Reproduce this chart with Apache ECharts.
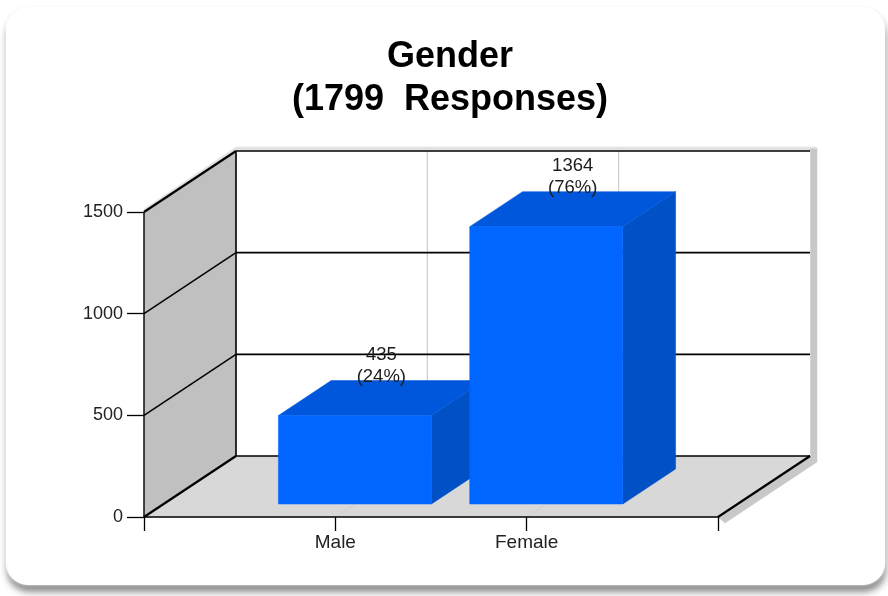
<!DOCTYPE html>
<html>
<head>
<meta charset="utf-8">
<title>Gender</title>
<script src="https://cdn.jsdelivr.net/npm/echarts@6/dist/echarts.min.js"></script>
<style>
  html, body { margin: 0; padding: 0; background: #fff; overflow: hidden; }
  #wrap { position: relative; width: 888px; height: 596px; background: #fff; overflow: hidden; }
  #card {
    position: absolute; left: 6px; top: 7px; width: 879px; height: 578px;
    background: #fff; border-radius: 22px;
    box-shadow: 0 0 3px #f2f2f2, 1px 7px 7px #8c8c8c;
  }
  #chart { position: absolute; left: 0; top: 0; width: 888px; height: 596px; }
</style>
</head>
<body>
<div id="wrap">
  <div id="card"></div>
  <div id="chart"></div>
</div>
<script>
var titleLines = ['Gender', '(1799  Responses)'];
var categories = ['Male', 'Female'];
var values = [435, 1364];
var percents = ['24%', '76%'];
var yTicks = [0, 500, 1000, 1500];

// 3d look: how far the back wall is moved from the front plane, in px
var depthX = 92;
var depthY = -61;
var barFront = 0.213;
var barBack = 0.787;
var barWidth = 0.8;
var xMax = categories.length + 1;
var yMax = yTicks[yTicks.length - 1];

function project(api, x, y, d) {
  var p = api.coord([x, y]);
  return [p[0] + d * depthX, p[1] + d * depthY];
}

function poly(points, color) {
  return { type: 'polygon', shape: { points: points }, style: { fill: color, stroke: color, lineWidth: 0.5 } };
}

function seg(a, b, color, width) {
  return {
    type: 'line',
    shape: { x1: a[0], y1: a[1], x2: b[0], y2: b[1] },
    style: { stroke: color, lineWidth: width }
  };
}

function renderWalls(params, api) {
  var kids = [];
  var fl = project(api, 0, 0, 0), fr = project(api, xMax, 0, 0);
  var bl = project(api, 0, 0, 1), br = project(api, xMax, 0, 1);
  var tfl = project(api, 0, yMax, 0), tbl = project(api, 0, yMax, 1), tbr = project(api, xMax, yMax, 1);

  // drop shadow behind the box
  kids.push(poly([[tbl[0], tbl[1] - 4], [tbr[0] + 7, tbr[1] - 4], [tbr[0] + 7, tbr[1]], [tbl[0], tbl[1]]], '#e2e2e2'));
  kids.push(poly([[tfl[0], tfl[1] - 3], [tbl[0], tbl[1] - 4], [tbl[0], tbl[1]], [tfl[0], tfl[1]]], '#e2e2e2'));
  kids.push(poly([[tbr[0], tbr[1] - 2], [tbr[0] + 7, tbr[1] - 2], [br[0] + 7, br[1] + 6], [fr[0] + 7, fr[1] + 6], [fr[0], fr[1]], [br[0], br[1]]], '#c8c8c8'));

  // back wall, side wall and floor
  kids.push(poly([tbl, tbr, br, bl], '#ffffff'));
  kids.push(poly([tfl, tbl, bl, fl], '#c0c0c0'));
  kids.push(poly([fl, fr, br, bl], '#d8d8d8'));

  // category guide lines on floor and back wall
  categories.forEach(function (c, i) {
    kids.push(seg(project(api, i + 1, 0, 0), project(api, i + 1, 0, 1), '#cfcfcf', 1));
    kids.push(seg(project(api, i + 1, 0, 1), project(api, i + 1, yMax, 1), '#c4c4c4', 1));
  });

  // value lines, running round the side wall and along the back
  yTicks.forEach(function (t) {
    kids.push(seg(project(api, 0, t, 0), project(api, 0, t, 1), '#000000', t === 500 || t === 1000 ? 1.5 : 2.2));
    kids.push(seg(project(api, 0, t, 1), project(api, xMax, t, 1), '#000000', 1.6));
  });
  kids.push(seg(tfl, fl, '#000000', 1.4));
  kids.push(seg(tbl, bl, '#000000', 1.6));
  kids.push(seg(fr, br, '#000000', 2.2));
  return { type: 'group', children: kids };
}

function renderBar(params, api) {
  var x = api.value(0), v = api.value(1);
  var x0 = x - barWidth / 2, x1 = x + barWidth / 2;
  return {
    type: 'group',
    children: [
      poly([project(api, x1, 0, barFront), project(api, x1, 0, barBack), project(api, x1, v, barBack), project(api, x1, v, barFront)], '#0050c6'),
      poly([project(api, x0, v, barFront), project(api, x0, v, barBack), project(api, x1, v, barBack), project(api, x1, v, barFront)], '#0057dc'),
      poly([project(api, x0, 0, barFront), project(api, x1, 0, barFront), project(api, x1, v, barFront), project(api, x0, v, barFront)], '#0066ff')
    ]
  };
}

function renderLabel(params, api) {
  var i = params.dataIndex;
  var p = project(api, api.value(0), api.value(1), 0.5);
  return {
    type: 'text',
    style: {
      x: p[0],
      y: p[1] - 10,
      text: values[i] + '\n(' + percents[i] + ')',
      align: 'center',
      verticalAlign: 'bottom',
      font: '18.5px "Liberation Sans", Arial, sans-serif',
      lineHeight: 22,
      fill: '#1c1c1c'
    }
  };
}

var barData = categories.map(function (c, i) { return [i + 1, values[i]]; });

var chart = echarts.init(document.getElementById('chart'), null, { renderer: 'canvas' });
chart.setOption({
  animation: false,
  backgroundColor: 'transparent',
  title: {
    text: titleLines.join('\n'),
    left: 445,
    top: 31,
    textAlign: 'center',
    textStyle: {
      fontFamily: '"Liberation Sans", Arial, sans-serif',
      fontSize: 36,
      fontWeight: 'bold',
      color: '#000',
      lineHeight: 43
    }
  },
  grid: { left: 144, top: 212, width: 574, height: 305 },
  xAxis: {
    type: 'value',
    min: 0,
    max: xMax,
    interval: 1,
    z: 6,
    splitLine: { show: false },
    axisLine: { show: true, lineStyle: { color: '#000', width: 1.5 } },
    axisTick: { show: true, length: 14, lineStyle: { color: '#000', width: 1.3 } },
    axisLabel: {
      margin: 16,
      fontFamily: '"Liberation Sans", Arial, sans-serif',
      fontSize: 19,
      color: '#222',
      showMinLabel: true,
      showMaxLabel: true,
      formatter: function (v) { return categories[v - 1] || ''; }
    }
  },
  yAxis: {
    type: 'value',
    min: 0,
    max: yMax,
    interval: 500,
    z: 6,
    splitLine: { show: false },
    axisLine: { show: false },
    axisTick: { show: true, length: 17, lineStyle: { color: '#000', width: 1.3 } },
    axisLabel: {
      margin: 21,
      fontFamily: '"Liberation Sans", Arial, sans-serif',
      fontSize: 18,
      color: '#222',
      formatter: function (v) { return String(v); }
    }
  },
  series: [
    { type: 'custom', name: 'walls', z: 1, clip: false, silent: true, data: [[0, 0]], renderItem: renderWalls },
    { type: 'custom', name: 'bars', z: 3, clip: false, data: barData, renderItem: renderBar },
    { type: 'custom', name: 'labels', z: 8, clip: false, silent: true, data: barData, renderItem: renderLabel }
  ]
});
</script>
</body>
</html>
